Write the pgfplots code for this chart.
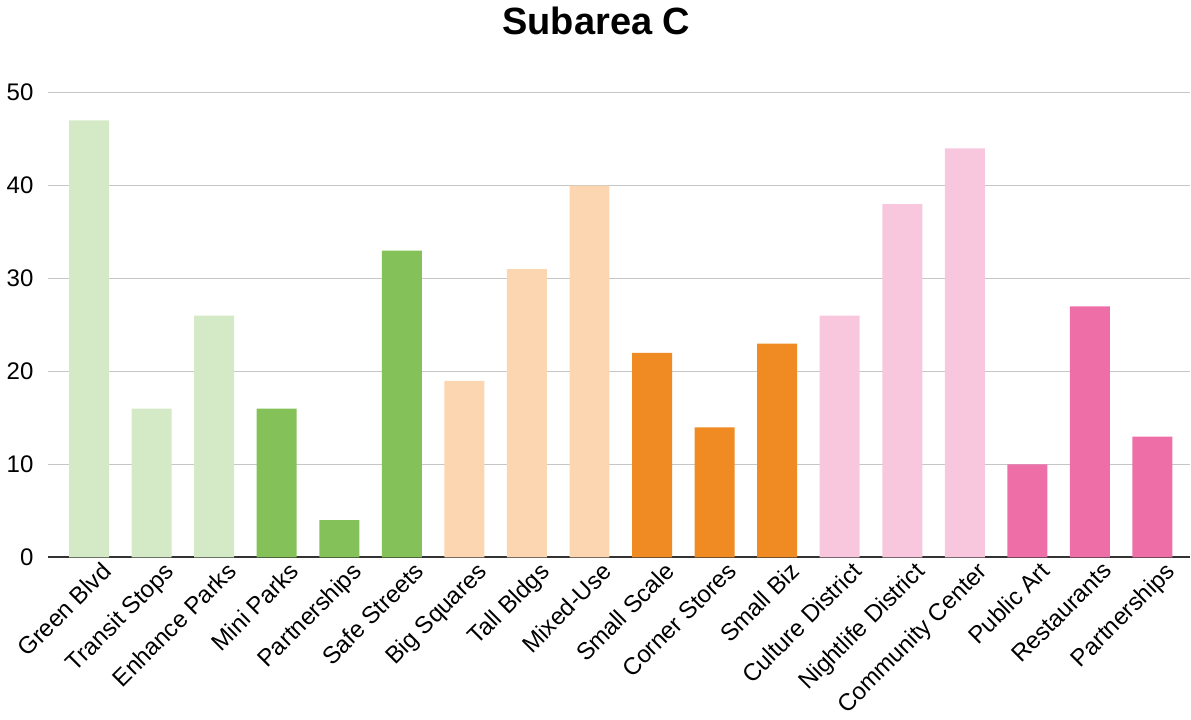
\documentclass[border=0pt]{standalone}
\usepackage{fontspec}
\setmainfont{Liberation Sans}
\usepackage{pgfplots}
\pgfplotsset{compat=1.18}

\definecolor{ltgreen}{HTML}{D4E9C5}
\definecolor{dkgreen}{HTML}{84C159}
\definecolor{ltorange}{HTML}{FBD6B1}
\definecolor{dkorange}{HTML}{F08B23}
\definecolor{ltpink}{HTML}{F8C7DD}
\definecolor{dkpink}{HTML}{EE6EA8}
\definecolor{gridgray}{HTML}{C6C6C6}
\definecolor{axisgray}{HTML}{333333}

\begin{document}
\begin{tikzpicture}
\begin{axis}[
  scale only axis,
  width=571pt, height=232.5pt,
  ymin=0, ymax=50,
  xmin=-0.65, xmax=17.6,
  ytick={0,10,20,30,40,50},
  xtick={0,...,17},
  xticklabels={Green Blvd, Transit Stops, Enhance Parks, Mini Parks, Partnerships, Safe Streets, Big Squares, Tall Bldgs, Mixed-Use, Small Scale, Corner Stores, Small Biz, Culture District, Nightlife District, Community Center, Public Art, Restaurants, Partnerships},
  x tick label style={rotate=45, anchor=north east, inner sep=0pt, xshift=3pt, yshift=-5pt},
  y tick label style={xshift=-4pt},
  tick label style={font=\fontsize{12}{14}\selectfont},
  /pgf/number format/assume math mode=true,
  major tick length=0pt,
  ymajorgrids,
  grid style={gridgray, line width=0.7pt},
  axis x line*=bottom,
  axis y line*=left,
  y axis line style={draw=none},
  x axis line style={axisgray, line width=1pt, -},
  ybar, bar width=20pt, bar shift=0pt,
  clip=false,
  title={Subarea C},
  title style={font=\bfseries\fontsize{19}{22}\selectfont, at={(0.48,1)}, anchor=center, yshift=30pt},
]
\addplot[fill=ltgreen, draw=none] coordinates {(0,47) (1,16) (2,26)};
\addplot[fill=dkgreen, draw=none] coordinates {(3,16) (4,4) (5,33)};
\addplot[fill=ltorange, draw=none] coordinates {(6,19) (7,31) (8,40)};
\addplot[fill=dkorange, draw=none] coordinates {(9,22) (10,14) (11,23)};
\addplot[fill=ltpink, draw=none] coordinates {(12,26) (13,38) (14,44)};
\addplot[fill=dkpink, draw=none] coordinates {(15,10) (16,27) (17,13)};
\coordinate (ll) at (rel axis cs:0,0);
\coordinate (ur) at (rel axis cs:1,1);
\end{axis}
\path (ll) ++(-24pt,-81pt) coordinate (bbll);
\path (ur) ++(0.5pt,44.5pt) coordinate (bbur);
\useasboundingbox (bbll) rectangle (bbur);
\end{tikzpicture}
\end{document}
